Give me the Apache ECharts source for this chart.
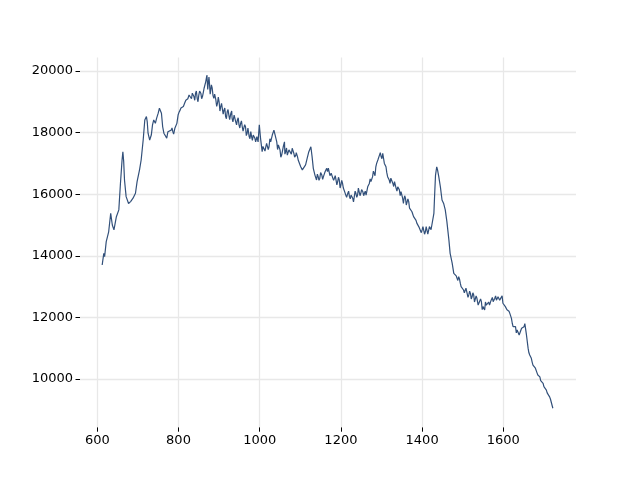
<!DOCTYPE html>
<html>
<head>
<meta charset="utf-8">
<script src="https://cdn.jsdelivr.net/npm/echarts@6/dist/echarts.min.js"></script>
<style>html,body{margin:0;padding:0;background:#fff}#c{width:640px;height:480px}</style>
</head>
<body>
<div id="c"></div>
<script>
// main trace (Raman shift vs intensity)
var shift = [612,616,618,622,628,633,637,641,647,653,657,661,663,665,667,671,677,682,688,694,698,704,708,713,717,721,723,725,729,733,736,739,743,746,750,753,754,758,761,764,768,771,774,778,782,786,791,796,799,804,809,815,820,826,830,834,838,842,846,850,855,859,863,867,870,873,876,879,883,887,892,896,900,904,908,912,916,920,924,929,932,937,941,945,949,953,957,961,965,969,974,978,980,984,988,993,996,999,1002,1006,1011,1015,1019,1023,1027,1031,1035,1038,1042,1046,1050,1054,1058,1061,1064,1068,1072,1076,1080,1084,1089,1093,1097,1101,1105,1109,1113,1117,1121,1126,1129,1132,1136,1140,1144,1148,1153,1157,1161,1165,1167,1171,1176,1180,1184,1188,1192,1196,1200,1204,1208,1212,1217,1221,1225,1229,1233,1237,1241,1245,1249,1254,1258,1262,1266,1270,1274,1278,1282,1286,1291,1295,1299,1303,1307,1311,1315,1319,1323,1328,1332,1336,1340,1344,1348,1352,1355,1359,1363,1367,1371,1375,1379,1383,1387,1392,1396,1400,1404,1408,1412,1416,1420,1424,1429,1431,1433,1436,1438,1441,1445,1449,1453,1457,1461,1466,1469,1474,1478,1482,1486,1490,1494,1498,1502,1506,1511,1515,1519,1523,1527,1531,1535,1542,1546,1550,1554,1558,1562,1566,1570,1575,1579,1583,1587,1591,1595,1599,1603,1607,1612,1616,1620,1622,1626,1630,1634,1639,1643,1647,1651,1654,1657,1661,1665,1669,1673,1677,1681,1685,1690,1694,1698,1702,1706,1710,1714,1718,1722];
var intensity = [13700,14080,13970,14460,14780,15380,15000,14840,15270,15490,16350,17110,17380,17060,16460,15920,15700,15760,15870,16030,16410,16790,17110,17760,18410,18520,18350,17980,17760,17920,18250,18410,18300,18460,18630,18790,18840,18630,18190,17980,18030,17820,18030,17980,18080,18030,18140,18300,18570,18730,18840,18950,19060,19220,19170,19280,19170,19280,19110,19220,19280,19170,19440,19650,19870,19550,19650,19330,19440,19110,19060,18950,19000,18840,18900,18730,18520,18680,18570,18630,18460,18570,18350,18410,18250,18300,18190,18080,18190,17980,17870,18030,17870,17920,17820,17870,17700,18250,17820,17380,17490,17540,17600,17540,17700,17920,18080,17920,17700,17600,17440,17270,17540,17700,17380,17270,17440,17380,17490,17330,17270,17220,17060,16890,16790,16840,16950,17170,17380,17540,17220,16840,16620,16460,16570,16520,16620,16570,16730,16840,16730,16790,16680,16620,16520,16460,16410,16460,16300,16350,16140,15970,16030,15920,15970,15870,15810,16030,15970,16140,16030,16080,16030,15970,16240,16350,16410,16570,16680,16890,17110,17270,17220,17330,17000,16890,16570,16460,16520,16350,16410,16190,16240,16140,16080,15870,15810,15870,15700,15760,15490,15430,15270,15220,15060,14940,14890,14840,14890,14780,14890,14730,14890,15000,15380,16030,16620,16890,16790,16570,16240,15810,15700,15490,15110,14510,14080,13760,13430,13380,13270,13320,13110,13050,12890,12830,12890,12730,12780,12670,12730,12560,12620,12460,12510,12350,12240,12400,12460,12400,12560,12510,12620,12560,12670,12560,12620,12460,12400,12300,12190,12130,11970,11810,11650,11700,11590,11430,11480,11590,11700,11750,11430,11000,10780,10670,10450,10400,10290,10130,10070,9910,9860,9810,9640,9540,9420,9320,9050];
// extra noise extremes
var noiseShift = [784,788,793,801,806,812,818,823,828,832,836,840,844,848,852,857,861,865,869,872,875,878,881,885,889,894,898,902,906,910,914,918,922,926,931,934,939,943,947,951,955,959,963,967,971,976,982,986,990,994,998,1008,1013,1017,1021,1025,1044,1048,1052,1056,1062,1066,1070,1074,1078,1082,1086,1090,1095,1142,1146,1150,1155,1159,1163,1169,1173,1178,1182,1186,1190,1194,1198,1202,1206,1210,1214,1219,1223,1227,1231,1235,1239,1243,1247,1251,1256,1260,1268,1272,1276,1280,1284,1288,1292,1297,1301,1309,1313,1317,1321,1325,1330,1334,1338,1342,1346,1350,1354,1357,1361,1365,1369,1373,1377,1381,1385,1389,1394,1398,1402,1406,1410,1414,1418,1422,1484,1488,1492,1496,1500,1504,1508,1513,1517,1521,1525,1529,1533,1538,1544,1548,1552,1556,1560,1564,1568,1573,1577,1581,1585,1589,1593,1597,1601,1605,1609,1614,1618,1624,1628,1632,1636,1641,1645,1649,1653,1663,1667,1671,1675,1679,1683,1687,1692,1696,1700,1704,1708,1712,1716,1720];
var noiseIntensity = [18150,17950,18200,18650,18800,18850,19050,19100,19250,19100,19300,19050,19350,19000,19350,19100,19300,19500,19700,19400,19800,19250,19550,19200,19250,18850,19150,18700,18950,18600,18800,18450,18750,18420,18700,18350,18620,18250,18480,18150,18380,18050,18260,17900,18150,17800,17750,17950,17700,17900,17650,17550,17400,17650,17450,17800,17450,17650,17200,17400,17300,17500,17300,17500,17300,17550,17200,17350,17100,16650,16450,16700,16480,16650,16700,16850,16600,16700,16450,16600,16300,16550,16200,16450,16200,16050,15900,16100,15850,16000,15750,16100,15900,16200,15950,16150,15950,16100,16200,16500,16400,16750,16600,17000,17150,17350,17150,17050,16700,16550,16350,16500,16250,16350,16100,16250,15950,16050,15700,15950,15650,15850,15550,15500,15350,15300,15150,15000,14950,14750,14950,14700,14950,14700,14950,14850,13350,13200,13250,13000,13000,12800,12950,12650,12850,12600,12800,12500,12700,12400,12600,12250,12300,12500,12350,12500,12450,12650,12500,12700,12550,12700,12500,12700,12500,12350,12250,12200,12050,11700,11750,11500,11650,11400,11650,11600,11800,10850,10750,10550,10450,10350,10200,10150,9950,9950,9750,9750,9550,9550,9350,9300];
var xTicks = [600,800,1000,1200,1400,1600];
var yTicks = [10000,12000,14000,16000,18000,20000];

var chart = echarts.init(document.getElementById('c'), null, {renderer:'canvas'});
var pts = shift.map(function(x,i){return [x, intensity[i]];})
  .concat(noiseShift.map(function(x,i){return [x, noiseIntensity[i]];}))
  .sort(function(a,b){return a[0]-b[0];});
var gridLines = xTicks.map(function(v){return {xAxis:v};}).concat(yTicks.map(function(v){return {yAxis:v};}));
var font = {fontFamily:'DejaVu Sans', fontSize:13, color:'#000'};
function plain(v){return String(v);}
chart.setOption({
  animation:false,
  backgroundColor:'#fff',
  grid:{left:80, right:64, top:57.6, bottom:52.8, containLabel:false},
  xAxis:{type:'value', min:557.4, max:1779,
    axisLine:{show:false},
    axisTick:{show:true, length:4.5, customValues:xTicks, lineStyle:{color:'#000', width:1}},
    axisLabel:Object.assign({customValues:xTicks, margin:7, formatter:plain}, font),
    splitLine:{show:false}},
  yAxis:{type:'value', min:8435, max:20435,
    axisLine:{show:false},
    axisTick:{show:true, length:4.5, customValues:yTicks, lineStyle:{color:'#000', width:1}},
    axisLabel:Object.assign({customValues:yTicks, margin:7, formatter:plain}, font),
    splitLine:{show:false}},
  series:[{
    type:'line', data:pts, symbol:'none', showSymbol:false, z:3,
    lineStyle:{color:'#32507a', width:1.2},
    markLine:{silent:true, symbol:'none', z:1, animation:false,
      label:{show:false},
      lineStyle:{color:'#e8e8e8', type:'solid', width:1.3},
      data:gridLines}
  }]
});
</script>
</body>
</html>
